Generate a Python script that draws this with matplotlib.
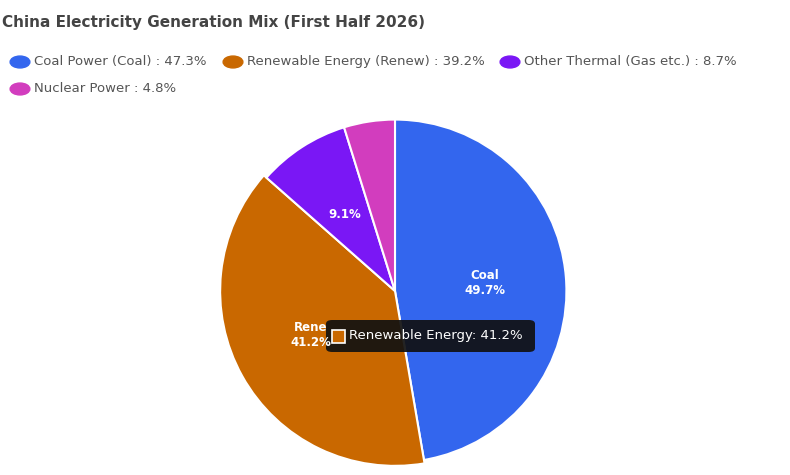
import matplotlib
matplotlib.use("Agg")
import matplotlib.pyplot as plt
from matplotlib.patches import FancyBboxPatch, Rectangle

# data
names = ["Coal Power (Coal)", "Renewable Energy (Renew)", "Other Thermal (Gas etc.)", "Nuclear Power"]
shares = [47.3, 39.2, 8.7, 4.8]
colors = ["#3366EE", "#C96800", "#7A17F5", "#D23DBE"]
slice_labels = ["Coal\n49.7%", "Rene\n41.2%", "9.1%", ""]

W, H = 790, 475
fig = plt.figure(figsize=(W / 100, H / 100), dpi=100)

def fx(x): return x / W
def fy(y): return 1 - y / H

fig.text(fx(2), fy(22), "China Electricity Generation Mix (First Half 2026)",
         fontsize=11, fontweight="bold", color="#444444", va="center")

# legend rows
leg_pos = [(20, 62), (233, 62), (510, 62), (20, 89)]
for (x, y), n, s, c in zip(leg_pos, names, shares, colors):
    fig.patches.append(plt.Circle((fx(x), fy(y)), 0.0125, color=c,
                                  transform=fig.transFigure, figure=fig))
    fig.text(fx(x + 14), fy(y), f"{n} : {s}%", fontsize=9.5, color="#555555", va="center")

ax = fig.add_axes([fx(395 - 180), fy(291 + 180), 360 / W, 360 / H])
wedges, _ = ax.pie(shares, colors=colors, startangle=90, counterclock=False,
                   wedgeprops=dict(edgecolor="white", linewidth=1.5))
wedges[1].set_radius(1.02)
ax.set_xlim(-1.05, 1.05); ax.set_ylim(-1.05, 1.05)
ax.set_aspect("equal"); ax.axis("off")

for (x, y), t in zip([(485, 283), (311, 335), (345, 214)], slice_labels):
    fig.text(fx(x), fy(y), t, fontsize=8.5, fontweight="bold", color="white",
             ha="center", va="center", linespacing=1.2)

# tooltip
tip = FancyBboxPatch((fx(326), fy(352)), fx(209), 32 / H,
                     boxstyle="round,pad=0,rounding_size=0.008",
                     transform=fig.transFigure, facecolor="#111111",
                     edgecolor="none", alpha=0.92, figure=fig)
fig.patches.append(tip)
fig.patches.append(Rectangle((fx(332), fy(343)), 13 / W, 13 / H, transform=fig.transFigure,
                             facecolor=colors[1], edgecolor="white", linewidth=1.2, figure=fig))
fig.text(fx(349), fy(336), "Renewable Energy: 41.2%", fontsize=9.5, color="white", va="center")

fig.savefig("out.png", dpi=100)
